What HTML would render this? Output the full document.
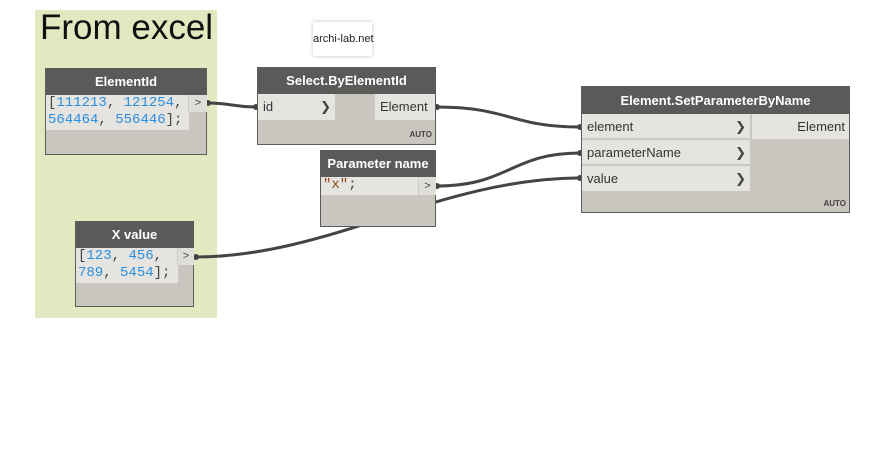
<!DOCTYPE html>
<html><head><meta charset="utf-8"><style>
body{margin:0;width:886px;height:458px;background:#fff;position:relative;overflow:hidden;font-family:"Liberation Sans","DejaVu Sans",sans-serif;}
.a{position:absolute;box-sizing:border-box;}
.node{position:absolute;box-sizing:border-box;background:#c9c5bf;border:1px solid #5e5c5a;}
.hd{position:absolute;left:0;right:0;top:0;background:#5c5a58;color:#fff;font-weight:bold;font-size:13px;text-align:center;}
.code{position:absolute;background:#e6e4e0;font-family:"Liberation Mono","DejaVu Sans Mono",monospace;font-size:14px;color:#444;line-height:17px;padding-left:2px;white-space:pre;}
.n{color:#2a8ee0}.s{color:#8a4a20}
.pt{position:absolute;background:#e0ded9;font-size:11px;color:#444;text-align:center;border-left:1px solid #ccc;}
.row{position:absolute;background:#e6e4e0;font-size:13px;color:#333;padding-left:5px;box-sizing:border-box;}
.chev{position:absolute;right:4px;top:0;font-weight:bold;color:#444;}
.auto{position:absolute;right:3px;font-size:8px;font-weight:bold;color:#444;}
</style></head><body>
<div class="a" style="left:35px;top:10px;width:182px;height:308px;background:#e1e9c0;"></div>
<div class="a" style="left:40px;top:8px;font-size:35px;color:#111;">From excel</div>
<div class="a" style="left:313px;top:22px;width:59px;height:34px;background:#fff;box-shadow:0 0 4px rgba(0,0,0,.25);font-size:11px;line-height:34px;text-align:center;color:#222;white-space:nowrap;">archi-lab.net</div>
<svg class="a" style="left:0;top:0" width="886" height="458">
<g fill="none" stroke="#444" stroke-width="3">
<path d="M207 103 C232 103 232 107 257 107"/>
<path d="M436 107 C510 107 510 127 581 127"/>
<path d="M436 186 C510 186 510 153 581 153"/>
<path d="M195 257 C330 257 440 178 581 178"/>
</g>
<g fill="#444"><circle cx="208" cy="103" r="3"/><circle cx="256" cy="107" r="3"/><circle cx="437" cy="107" r="3"/><circle cx="580" cy="127" r="3"/><circle cx="437" cy="186" r="3"/><circle cx="580" cy="153" r="3"/><circle cx="580" cy="178" r="3"/><circle cx="196" cy="257" r="3"/></g>
</svg>
<div class="node" style="left:45px;top:68px;width:162px;height:87px;">
<div class="hd" style="height:26px;line-height:26px;">ElementId</div>
<div class="code" style="left:0;top:26px;width:141px;height:35px;">[<span class="n">111213</span>, <span class="n">121254</span>,
<span class="n">564464</span>, <span class="n">556446</span>];</div>
<div class="pt" style="left:142px;top:26px;width:18px;height:17px;line-height:17px;">&gt;</div>
</div>
<div class="node" style="left:257px;top:67px;width:179px;height:78px;">
<div class="hd" style="height:26px;line-height:26px;">Select.ByElementId</div>
<div class="row" style="left:0;top:26px;width:77px;height:26px;line-height:26px;">id<span class="chev">&#x276F;</span></div>
<div class="row" style="right:0;top:26px;width:60px;height:26px;line-height:26px;">Element</div>
<div class="auto" style="bottom:5px;">AUTO</div>
</div>
<div class="node" style="left:320px;top:150px;width:116px;height:77px;">
<div class="hd" style="height:26px;line-height:26px;">Parameter name</div>
<div class="code" style="left:0;top:26px;width:96px;height:18px;"><span class="s">"x"</span>;</div>
<div class="pt" style="left:97px;top:26px;width:17px;height:18px;line-height:18px;">&gt;</div>
</div>
<div class="node" style="left:75px;top:221px;width:119px;height:86px;">
<div class="hd" style="height:26px;line-height:26px;">X value</div>
<div class="code" style="left:0;top:26px;width:100px;height:35px;">[<span class="n">123</span>, <span class="n">456</span>,
<span class="n">789</span>, <span class="n">5454</span>];</div>
<div class="pt" style="left:101px;top:26px;width:16px;height:17px;line-height:17px;">&gt;</div>
</div>
<div class="node" style="left:581px;top:86px;width:269px;height:127px;">
<div class="hd" style="height:27px;line-height:27px;">Element.SetParameterByName</div>
<div class="row" style="left:0;top:27px;width:168px;height:25px;line-height:25px;border-bottom:1px solid #ccc;">element<span class="chev">&#x276F;</span></div>
<div class="row" style="left:0;top:53px;width:168px;height:25px;line-height:25px;border-bottom:1px solid #ccc;">parameterName<span class="chev">&#x276F;</span></div>
<div class="row" style="left:0;top:79px;width:168px;height:25px;line-height:25px;">value<span class="chev">&#x276F;</span></div>
<div class="row" style="right:0;top:27px;width:97px;height:25px;line-height:25px;text-align:right;padding-right:4px;">Element</div>
<div class="auto" style="bottom:4px;">AUTO</div>
</div>
</body></html>
